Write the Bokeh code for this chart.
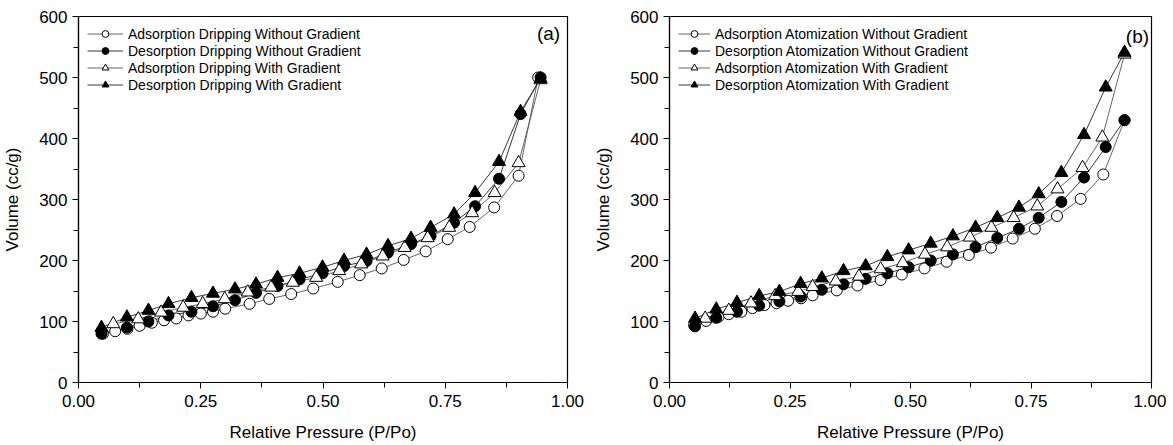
from bokeh.plotting import figure
from bokeh.layouts import row
from bokeh.models import Legend, LegendItem, FixedTicker, Label, Range1d
from bokeh.embed import file_html
from bokeh.resources import INLINE

# ---------------- Panel (a): Dripping ----------------
a_ads_wo_x = [0.05, 0.075, 0.10, 0.125, 0.15, 0.175, 0.20, 0.225, 0.25, 0.275, 0.30,
              0.35, 0.39, 0.435, 0.48, 0.53, 0.575, 0.62, 0.665, 0.71, 0.755, 0.80, 0.85, 0.90, 0.94]
a_ads_wo_y = [80, 84, 88, 93, 98, 102, 105, 110, 113, 116, 121,
              129, 137, 145, 154, 165, 176, 187, 201, 215, 235, 255, 287, 339, 500]

a_des_x = [0.047, 0.099, 0.143, 0.184, 0.231, 0.275, 0.32, 0.363, 0.407, 0.452, 0.499,
           0.543, 0.589, 0.633, 0.68, 0.72, 0.768, 0.811, 0.86, 0.904, 0.945]
a_des_wo_y = [80, 90, 100, 110, 116, 125, 135, 147, 158, 169, 179,
              191, 199, 213, 227, 240, 262, 289, 334, 440, 500]

a_ads_w_x = [0.071, 0.122, 0.169, 0.214, 0.254, 0.299, 0.346, 0.394, 0.438, 0.486,
             0.533, 0.578, 0.622, 0.667, 0.714, 0.758, 0.805, 0.851, 0.90, 0.945]
a_ads_w_y = [96, 104, 115, 123, 129, 137, 148, 156, 164, 172,
             183, 194, 207, 221, 237, 254, 278, 311, 360, 496]

a_des_w_y = [90, 107, 118, 129, 139, 146, 153, 161, 172, 179, 189,
             200, 210, 224, 236, 254, 276, 311, 362, 444, 498]

# ---------------- Panel (b): Atomization ----------------
b_ads_wo_x = [0.051, 0.076, 0.102, 0.123, 0.149, 0.172, 0.197, 0.222, 0.246, 0.273, 0.297,
              0.347, 0.39, 0.438, 0.482, 0.529, 0.575, 0.621, 0.667, 0.712, 0.758, 0.804, 0.853, 0.90, 0.944]
b_ads_wo_y = [94, 101, 108, 112, 116, 122, 127, 130, 134, 138, 143,
              151, 159, 168, 177, 187, 198, 209, 221, 236, 252, 273, 301, 341, 430]

b_des_x = [0.053, 0.097, 0.14, 0.186, 0.228, 0.272, 0.316, 0.361, 0.407, 0.452, 0.496,
           0.542, 0.588, 0.635, 0.68, 0.725, 0.766, 0.813, 0.86, 0.905, 0.944]
b_des_wo_y = [92, 106, 116, 126, 133, 141, 152, 161, 170, 179, 189,
              200, 210, 222, 237, 252, 270, 296, 336, 386, 430]

b_ads_w_x = [0.074, 0.123, 0.169, 0.219, 0.267, 0.297, 0.345, 0.393, 0.438, 0.484,
             0.53, 0.576, 0.623, 0.668, 0.714, 0.763, 0.805, 0.857, 0.898, 0.944]
b_ads_w_y = [105, 118, 130, 142, 149, 157, 166, 174, 186, 196,
             210, 222, 238, 254, 270, 289, 317, 352, 402, 538]

b_des_w_y = [105, 120, 131, 142, 149, 162, 171, 183, 191, 206, 217,
             228, 240, 254, 270, 287, 309, 344, 406, 484, 541]

labels_a = ["Adsorption Dripping Without Gradient", "Desorption Dripping Without Gradient",
            "Adsorption Dripping With Gradient", "Desorption Dripping With Gradient"]
labels_b = ["Adsorption Atomization Without Gradient", "Desorption Atomization Without Gradient",
            "Adsorption Atomization With Gradient", "Desorption Atomization With Gradient"]

x_ticks = [0.0, 0.25, 0.5, 0.75, 1.0]
x_minor = [0.125, 0.375, 0.625, 0.875]
y_ticks = [0, 100, 200, 300, 400, 500, 600]
y_minor = [50, 150, 250, 350, 450, 550]

FONT = "Liberation Sans"


def make_panel(series, labels, tag, width, left, right, tag_x, tag_y, glyph_w):
    p = figure(width=width, height=444, output_backend="svg", toolbar_location=None,
               x_range=Range1d(0, 1), y_range=Range1d(0, 600),
               min_border_left=left, min_border_right=right,
               min_border_top=16, min_border_bottom=59)
    p.xgrid.visible = False
    p.ygrid.visible = False
    p.outline_line_color = "black"
    p.outline_line_width = 1.2
    p.background_fill_color = "white"
    p.border_fill_color = "white"

    p.xaxis.ticker = FixedTicker(ticks=x_ticks, minor_ticks=x_minor)
    p.yaxis.ticker = FixedTicker(ticks=y_ticks, minor_ticks=y_minor)
    p.xaxis.major_label_overrides = {t: f"{t:.2f}" for t in x_ticks}
    p.xaxis.axis_label = "Relative Pressure (P/Po)"
    p.yaxis.axis_label = "Volume (cc/g)"
    for ax in (p.xaxis, p.yaxis):
        ax.axis_line_color = "black"
        ax.axis_line_width = 1.2
        ax.major_tick_line_color = "black"
        ax.minor_tick_line_color = "black"
        ax.major_tick_in = 0
        ax.major_tick_out = 6
        ax.minor_tick_in = 0
        ax.minor_tick_out = 5
        ax.major_label_text_font = FONT
        ax.major_label_text_font_size = "17px"
        ax.major_label_text_color = "black"
        ax.axis_label_text_font = FONT
        ax.axis_label_text_font_size = "17px"
        ax.axis_label_text_font_style = "normal"
        ax.axis_label_text_color = "black"
    p.xaxis.major_label_standoff = 6
    p.yaxis.major_label_standoff = 5
    p.xaxis.axis_label_standoff = 13
    p.yaxis.axis_label_standoff = 14

    styles = [
        dict(marker="circle", fill="white", lc="#555555", size=11),
        dict(marker="circle", fill="black", lc="#222222", size=11),
        dict(marker="triangle", fill="white", lc="#555555", size=13),
        dict(marker="triangle", fill="black", lc="#222222", size=13),
    ]
    lines = []
    for (xs, ys), st in zip(series, styles):
        lines.append(p.line(xs, ys, line_color=st["lc"], line_width=0.9))
    items = []
    for (xs, ys), st, lab, lr in zip(series, styles, labels, lines):
        sr = p.scatter(xs, ys, marker=st["marker"], size=st["size"],
                       fill_color=st["fill"], line_color="black", line_width=1)
        items.append(LegendItem(label=lab, renderers=[lr, sr]))

    legend = Legend(items=items, location="top_left", margin=3, padding=6,
                    spacing=0, label_height=17, glyph_height=17, glyph_width=glyph_w,
                    label_standoff=5, label_text_font=FONT, label_text_font_size="14px",
                    label_text_color="black", background_fill_alpha=0,
                    border_line_alpha=0)
    p.add_layout(legend)

    p.add_layout(Label(x=tag_x, y=tag_y, text=tag, text_align="right", text_baseline="top",
                       text_font=FONT, text_font_size="19px", text_color="black"))
    return p


pa = make_panel([(a_ads_wo_x, a_ads_wo_y), (a_des_x, a_des_wo_y),
                 (a_ads_w_x, a_ads_w_y), (a_des_x, a_des_w_y)],
                labels_a, "(a)", 591, 77, 24, 0.985, 590, 36)
pb = make_panel([(b_ads_wo_x, b_ads_wo_y), (b_des_x, b_des_wo_y),
                 (b_ads_w_x, b_ads_w_y), (b_des_x, b_des_w_y)],
                labels_b, "(b)", 575, 73, 15, 0.995, 585, 32)

layout = row(pa, pb)
open("out.html", "w").write(file_html(layout, INLINE))
